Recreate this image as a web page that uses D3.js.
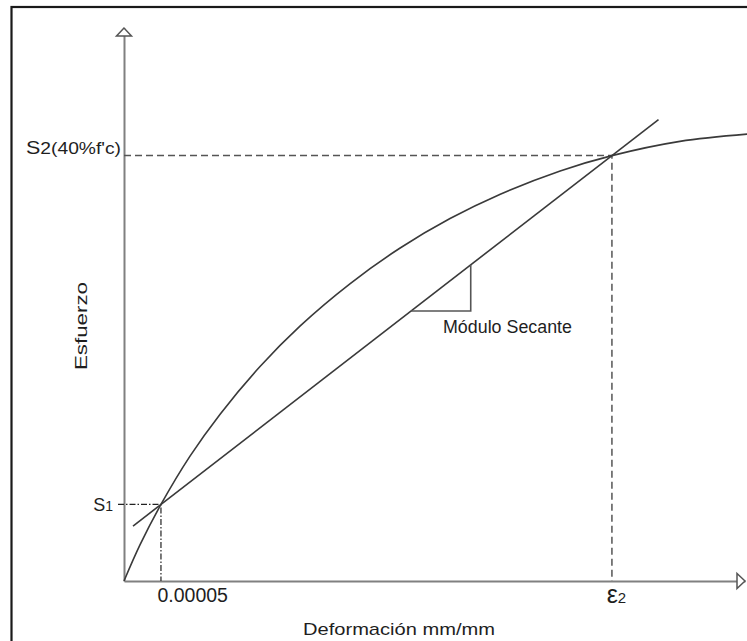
<!DOCTYPE html>
<html><head><meta charset="utf-8">
<script src="https://cdn.jsdelivr.net/npm/d3@7"></script>
<style>
body{margin:0;background:#fff}
svg{display:block}
text{font-family:"Liberation Sans",Arial,sans-serif;fill:#1e1e1e}
</style>
</head><body>
<svg id="c" width="747" height="641"></svg>
<script>
// ---- data (strain mm/mm, stress as fraction of f'c) ----
const curveStrain = [0, 0.0000216, 0.00005, 0.0000893, 0.00013, 0.000184, 0.000238, 0.000306, 0.000373, 0.000441, 0.000509, 0.00059, 0.00066, 0.000752, 0.000843];
const curveStress = [0, 0.0339, 0.072, 0.1174, 0.1569, 0.2017, 0.2397, 0.2797, 0.3129, 0.3408, 0.3637, 0.3856, 0.40, 0.4134, 0.4202];
const s1Point = [0.00005, 0.072];
const s2Point = [0.00066, 0.40];
const secantExtent = [0.0000122, 0.000723];
const triangleCorner = [0.000469, 0.2539];
const xTickValues = [0.00005, 0.00066];
const xTickMain = ["0.00005", "ε"];
const xTickSub = ["", "2"];
const yTickValues = [0.072, 0.40];
const yTickMain = ["S", "S"];
const yTickSub = ["1", "2(40%f'c)"];
const xTitle = "Deformación mm/mm";
const yTitle = "Esfuerzo";
const secantLabel = "Módulo Secante";
const xDomainMax = 0.00084, yDomainMax = 0.52;

const svg = d3.select("#c");
const x = d3.scaleLinear().domain([0, xDomainMax]).range([124, 745]);
const y = d3.scaleLinear().domain([0, yDomainMax]).range([581, 28]);

// frame
svg.append("rect").attr("x", 11.5).attr("y", 7).attr("width", 800).attr("height", 700)
  .attr("fill", "none").attr("stroke", "#1a1a1a").attr("stroke-width", 2.2);

const axisColor = "#808080";
// x axis
const gx = svg.append("g").attr("transform", `translate(0,${y(0)})`)
  .call(d3.axisBottom(x).tickValues(xTickValues).tickSize(0).tickSizeOuter(0).tickFormat(""));
gx.select(".domain").attr("stroke", axisColor).attr("stroke-width", 2);
// y axis
const gy = svg.append("g").attr("transform", `translate(${x(0)},0)`)
  .call(d3.axisLeft(y).tickValues(yTickValues).tickSize(0).tickSizeOuter(0).tickFormat(""));
gy.select(".domain").attr("stroke", axisColor).attr("stroke-width", 2);

// arrow heads (open triangles)
const xa = x(xDomainMax), ya = y(yDomainMax);
svg.append("path").attr("d", `M${xa},${y(0)} L${xa-8},${y(0)-7.5} L${xa-8},${y(0)+7.5} Z`)
  .attr("fill", "#fff").attr("stroke", "#555").attr("stroke-width", 1.5);
svg.append("path").attr("d", `M${x(0)},${ya} L${x(0)-7.5},${ya+8} L${x(0)+7.5},${ya+8} Z`)
  .attr("fill", "#fff").attr("stroke", "#555").attr("stroke-width", 1.5);

// tick labels x
gx.selectAll(".tick text").each(function(d, i) {
  const t = d3.select(this).text(null).attr("y", null).attr("dy", null)
    .attr("fill", "#1e1e1e");
  if (i === 0) {
    t.attr("text-anchor", "start").attr("x", -4).attr("y", 21).style("font-size", "19.5px");
    t.append("tspan").text(xTickMain[i]);
  } else {
    t.attr("text-anchor", "middle").attr("x", 4).attr("y", 22);
    t.append("tspan").text(xTickMain[i]).style("font-size", "25px");
    t.append("tspan").text(xTickSub[i]).style("font-size", "15px");
  }
});
// tick labels y
gy.selectAll(".tick text").each(function(d, i) {
  const t = d3.select(this).text(null).attr("dy", null).attr("fill", "#1e1e1e").attr("text-anchor", "end");
  if (i === 0) {
    t.attr("x", -11).attr("y", 6);
    t.append("tspan").text(yTickMain[i]).style("font-size", "18px");
    t.append("tspan").text(yTickSub[i]).style("font-size", "14px");
  } else {
    t.attr("x", -3).attr("y", -2).attr("textLength", 95).attr("lengthAdjust", "spacingAndGlyphs");
    t.append("tspan").text(yTickMain[i]).style("font-size", "19px");
    t.append("tspan").text(yTickSub[i]).style("font-size", "17px");
  }
});

// S2 dashed guides
const dashColor = "#555";
svg.append("path")
  .attr("d", `M${x(0)},${y(s2Point[1])} H${x(s2Point[0])} V${y(0)}`)
  .attr("fill", "none").attr("stroke", dashColor).attr("stroke-width", 1.5).attr("stroke-dasharray", "7,4");
// S1 dash-dot guides
svg.append("path")
  .attr("d", `M${x(0)-6},${y(s1Point[1])} H${x(s1Point[0])} V${y(0)}`)
  .attr("fill", "none").attr("stroke", "#222").attr("stroke-width", 1.2).attr("stroke-dasharray", "6,2,1.5,2");

// stress-strain curve
const pts = curveStrain.map((s, i) => [s, curveStress[i]]);
svg.append("path").datum(pts)
  .attr("d", d3.line().x(d => x(d[0])).y(d => y(d[1])).curve(d3.curveCatmullRom.alpha(0.5)))
  .attr("fill", "none").attr("stroke", "#3a3a3a").attr("stroke-width", 1.6);

// secant line
const slope = (s2Point[1] - s1Point[1]) / (s2Point[0] - s1Point[0]);
const secY = e => s1Point[1] + slope * (e - s1Point[0]);
svg.append("line")
  .attr("x1", x(secantExtent[0])).attr("y1", y(secY(secantExtent[0])))
  .attr("x2", x(secantExtent[1])).attr("y2", y(secY(secantExtent[1])))
  .attr("stroke", "#3a3a3a").attr("stroke-width", 1.6);

// slope triangle
const triStartStrain = s1Point[0] + (triangleCorner[1] - s1Point[1]) / slope;
svg.append("path")
  .attr("d", `M${x(triStartStrain)},${y(triangleCorner[1])} H${x(triangleCorner[0])} V${y(secY(triangleCorner[0]))}`)
  .attr("fill", "none").attr("stroke", "#555").attr("stroke-width", 1.6);

// texts
svg.append("text").attr("x", 443).attr("y", 333).style("font-size", "17.5px")
  .attr("textLength", 129).attr("lengthAdjust", "spacingAndGlyphs").text(secantLabel);
svg.append("text").attr("x", 303).attr("y", 635).style("font-size", "17px")
  .attr("textLength", 192).attr("lengthAdjust", "spacingAndGlyphs").text(xTitle);
svg.append("text").attr("transform", "translate(87,370) rotate(-90)")
  .style("font-size", "16px").attr("textLength", 88).attr("lengthAdjust", "spacingAndGlyphs").text(yTitle);
</script>
</body></html>
